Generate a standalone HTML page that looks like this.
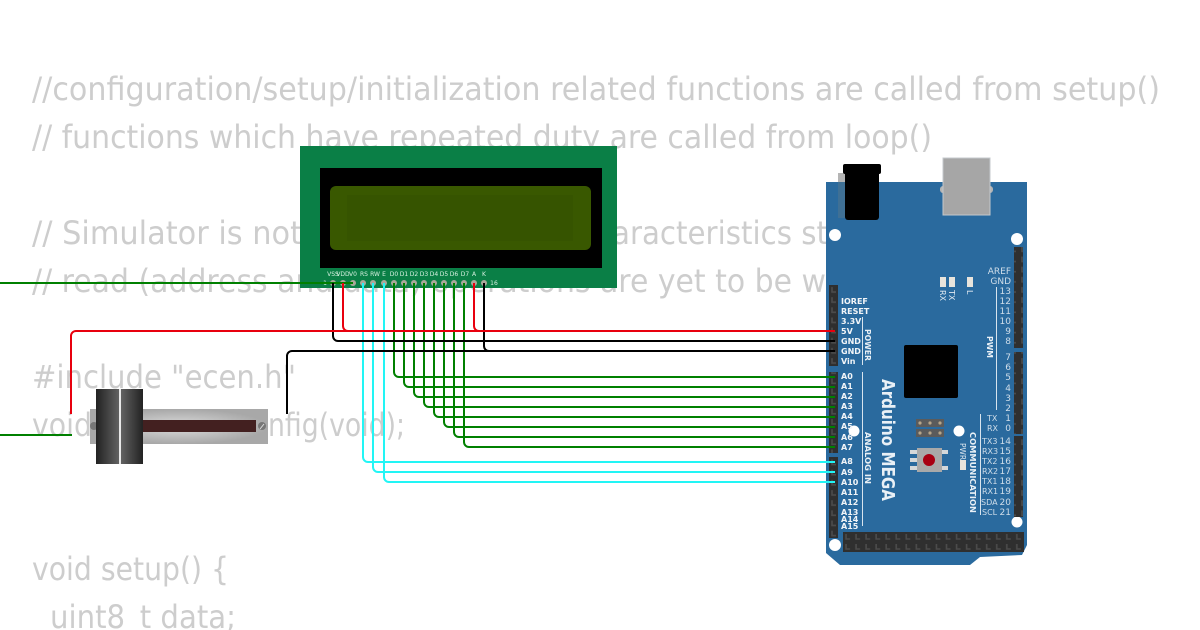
<!DOCTYPE html>
<html><head><meta charset="utf-8"><style>
html,body{margin:0;padding:0;background:#fff;width:1200px;height:630px;overflow:hidden}
svg{display:block}
.c{font:32px "DejaVu Sans",sans-serif;fill:#cdcdcd}
.l{font:bold 8px "DejaVu Sans",sans-serif;fill:#f2f5f8}
.r{font:9px "DejaVu Sans",sans-serif;fill:#cfdde9;text-anchor:end}
.t{font:8px "DejaVu Sans",sans-serif;fill:#cfdde9}
.p{font:6px "DejaVu Sans",sans-serif;fill:#d6f0e0;text-anchor:middle}
.w{fill:none;stroke-width:2}
</style></head><body>
<svg width="1200" height="630" viewBox="0 0 1200 630" xmlns="http://www.w3.org/2000/svg">
<defs>
<pattern id="h" width="10" height="10.15" patternUnits="userSpaceOnUse" x="829" y="285"><rect width="10" height="11" fill="#2f2f2f"/><path d="M3 2v5h4" fill="none" stroke="#4b4b4b" stroke-width="1.6"/></pattern>
<pattern id="b" width="10.05" height="10" patternUnits="userSpaceOnUse" x="843" y="532"><rect width="11" height="10" fill="#2f2f2f"/><path d="M3 2v5h4" fill="none" stroke="#4b4b4b" stroke-width="1.6"/></pattern>
<linearGradient id="k1" x1="0" x2="1" y1="0" y2="0"><stop offset="0" stop-color="#222"/><stop offset="1" stop-color="#626262"/></linearGradient>
<linearGradient id="k2" x1="0" x2="1" y1="0" y2="0"><stop offset="0" stop-color="#626262"/><stop offset="1" stop-color="#222"/></linearGradient>
<radialGradient id="s"><stop offset="0" stop-color="#dcdcdc"/><stop offset="1" stop-color="#a8a8a8"/></radialGradient>
</defs>
<g class="c">
<text x="32" y="100" textLength="1128" lengthAdjust="spacingAndGlyphs">//configuration/setup/initialization related functions are called from setup()</text>
<text x="32" y="148" textLength="900" lengthAdjust="spacingAndGlyphs">// functions which have repeated duty are called from loop()</text>
<text x="32" y="244" textLength="270" lengthAdjust="spacingAndGlyphs">// Simulator is not</text>
<text x="612" y="244" textLength="216" lengthAdjust="spacingAndGlyphs">aracteristics st</text>
<text x="32" y="292" textLength="794" lengthAdjust="spacingAndGlyphs">// read (address and data) operations are yet to be w</text>
<text x="32" y="388" textLength="264" lengthAdjust="spacingAndGlyphs">#include "ecen.h"</text>
<text x="32" y="436" textLength="60" lengthAdjust="spacingAndGlyphs">void</text>
<text x="268" y="436" textLength="137" lengthAdjust="spacingAndGlyphs">nfig(void);</text>
<text x="32" y="580" textLength="197" lengthAdjust="spacingAndGlyphs">void setup() {</text>
<text x="50" y="628" textLength="186" lengthAdjust="spacingAndGlyphs">uint8_t data;</text>
</g>

<!-- LCD -->
<rect x="300" y="146" width="317" height="142" fill="#0a7f46"/>
<rect x="320" y="168" width="282" height="100" fill="#000"/>
<rect x="330" y="186" width="261" height="64" rx="6" fill="#395800"/>
<rect x="347" y="195" width="226" height="46" fill="#365400"/>
<g class="p">
<text x="333" y="276">VSS</text><text x="343" y="276">VDD</text><text x="353" y="276">V0</text><text x="364" y="276">RS</text><text x="375" y="276">RW</text><text x="384" y="276">E</text><text x="394" y="276">D0</text><text x="404" y="276">D1</text><text x="414" y="276">D2</text><text x="424" y="276">D3</text><text x="434" y="276">D4</text><text x="444" y="276">D5</text><text x="454" y="276">D6</text><text x="465" y="276">D7</text><text x="474" y="276">A</text><text x="484" y="276">K</text><text x="325" y="285">1</text><text x="494" y="285">16</text>
</g>
<g fill="#a9a99a">
<circle cx="333" cy="283" r="3"/><circle cx="343" cy="283" r="3"/><circle cx="353" cy="283" r="3"/><circle cx="363" cy="283" r="3"/><circle cx="373" cy="283" r="3"/><circle cx="384" cy="283" r="3"/><circle cx="394" cy="283" r="3"/><circle cx="404" cy="283" r="3"/><circle cx="414" cy="283" r="3"/><circle cx="424" cy="283" r="3"/><circle cx="434" cy="283" r="3"/><circle cx="444" cy="283" r="3"/><circle cx="454" cy="283" r="3"/><circle cx="464" cy="283" r="3"/><circle cx="474" cy="283" r="3"/><circle cx="484" cy="283" r="3"/>
</g>

<!-- Slider -->
<rect x="90" y="409" width="178" height="35" fill="url(#s)"/>
<rect x="143" y="420" width="113" height="12" fill="#432020"/>
<circle cx="262" cy="426" r="4" fill="#777"/><path d="M260 429l4-5" stroke="#ddd"/>
<circle cx="94" cy="426" r="4" fill="#777"/>
<rect x="118" y="389" width="4" height="75" fill="#e8e8e8"/>
<rect x="96" y="389" width="23" height="75" fill="url(#k1)"/>
<rect x="121" y="389" width="22" height="75" fill="url(#k2)"/>

<!-- Arduino -->
<rect x="838" y="173" width="8" height="10" fill="#b5b5b5"/>
<path d="M826 182H1027V545L1022 555L980 557L970 565H840L826 553Z" fill="#2a6a9e"/>
<rect x="940" y="186" width="53" height="7" rx="3" fill="#b5b5b5"/>
<path d="M838 182h8v36h-8z" fill="#3f7095"/>
<rect x="845" y="168" width="34" height="52" rx="3" fill="#000"/>
<rect x="843" y="164" width="38" height="10" rx="2" fill="#000"/>
<rect x="943" y="158" width="47" height="57" fill="#a6a6a6" stroke="#c4c8cc"/>
<circle cx="835" cy="235" r="6" fill="#fff"/><circle cx="1017" cy="239" r="6" fill="#fff"/><circle cx="835" cy="545" r="6" fill="#fff"/><circle cx="1017" cy="522" r="5.5" fill="#fff"/><circle cx="854" cy="431" r="5.5" fill="#fff"/><circle cx="959" cy="431" r="5.5" fill="#fff"/>
<rect x="829" y="285" width="9" height="81" fill="url(#h)"/>
<rect x="829" y="372" width="9" height="81" fill="url(#h)"/>
<rect x="829" y="457" width="9" height="81" fill="url(#h)"/>
<rect x="1014" y="247" width="9" height="101" fill="url(#h)"/>
<rect x="1014" y="352" width="9" height="82" fill="url(#h)"/>
<rect x="1014" y="436" width="9" height="81" fill="url(#h)"/>
<rect x="843" y="532" width="181" height="20" fill="url(#b)"/>
<rect x="904" y="345" width="54" height="53" rx="2" fill="#000"/>
<rect x="916" y="419" width="28" height="8" fill="#5b5b5b"/><rect x="916" y="429" width="28" height="8" fill="#5b5b5b"/>
<g fill="#b5a58a"><circle cx="920" cy="423" r="1.6"/><circle cx="930" cy="423" r="1.6"/><circle cx="940" cy="423" r="1.6"/><circle cx="920" cy="433" r="1.6"/><circle cx="930" cy="433" r="1.6"/><circle cx="940" cy="433" r="1.6"/></g>
<g fill="#d5d8da"><rect x="910" y="450" width="8" height="4"/><rect x="910" y="458" width="8" height="4"/><rect x="910" y="466" width="8" height="4"/><rect x="941" y="450" width="7" height="4"/><rect x="941" y="466" width="7" height="4"/></g>
<rect x="917" y="448" width="25" height="24" fill="#a9a9a9"/><circle cx="929" cy="460" r="6" fill="#a80012"/>
<g fill="#e8e4dc"><rect x="960" y="460" width="6" height="10"/><rect x="940" y="277" width="6" height="10"/><rect x="949" y="277" width="6" height="10"/><rect x="967" y="277" width="6" height="10"/></g>
<g stroke="#d8e4ee" fill="none"><path d="M862.5 317V365M862.5 372V526M996.5 287V410M980.5 414V515"/></g>

<g class="l">
<text x="841" y="304">IOREF</text><text x="841" y="314">RESET</text><text x="841" y="324">3.3V</text><text x="841" y="334">5V</text><text x="841" y="344">GND</text><text x="841" y="354">GND</text><text x="841" y="364">Vin</text>
<text x="841" y="379">A0</text><text x="841" y="389">A1</text><text x="841" y="399">A2</text><text x="841" y="409">A3</text><text x="841" y="419">A4</text><text x="841" y="429">A5</text><text x="841" y="440">A6</text><text x="841" y="450">A7</text>
<text x="841" y="464">A8</text><text x="841" y="475">A9</text><text x="841" y="485">A10</text><text x="841" y="495">A11</text><text x="841" y="505">A12</text><text x="841" y="515">A13</text><text x="841" y="522">A14</text><text x="841" y="529">A15</text>
</g>
<g class="r">
<text x="1011" y="274">AREF</text><text x="1011" y="284">GND</text><text x="1011" y="294">13</text><text x="1011" y="304">12</text><text x="1011" y="314">11</text><text x="1011" y="324">10</text><text x="1011" y="334">9</text><text x="1011" y="344">8</text><text x="1011" y="360">7</text><text x="1011" y="370">6</text><text x="1011" y="380">5</text><text x="1011" y="391">4</text><text x="1011" y="401">3</text><text x="1011" y="411">2</text><text x="1011" y="421">1</text><text x="1011" y="431">0</text><text x="1011" y="444">14</text><text x="1011" y="454">15</text><text x="1011" y="464">16</text><text x="1011" y="474">17</text><text x="1011" y="484">18</text><text x="1011" y="494">19</text><text x="1011" y="505">20</text><text x="1011" y="515">21</text>
</g>
<g class="t">
<text x="987" y="421">TX</text><text x="987" y="431">RX</text><text x="982" y="444">TX3</text><text x="982" y="454">RX3</text><text x="982" y="464">TX2</text><text x="982" y="474">RX2</text><text x="982" y="484">TX1</text><text x="982" y="494">RX1</text><text x="981" y="505">SDA</text><text x="982" y="515">SCL</text>
</g>
<text transform="translate(882,379) rotate(90)" style="font:bold 18px 'DejaVu Sans',sans-serif;fill:#e9f0f6" textLength="122" lengthAdjust="spacingAndGlyphs">Arduino MEGA</text>
<g style="font:bold 8px 'DejaVu Sans',sans-serif;fill:#e9f0f6">
<text transform="translate(865,329) rotate(90)" textLength="32" lengthAdjust="spacingAndGlyphs">POWER</text>
<text transform="translate(865,432) rotate(90)" textLength="52" lengthAdjust="spacingAndGlyphs">ANALOG IN</text>
<text transform="translate(987,336) rotate(90)" textLength="22" lengthAdjust="spacingAndGlyphs">PWM</text>
<text transform="translate(970,432) rotate(90)" textLength="81" lengthAdjust="spacingAndGlyphs">COMMUNICATION</text>
</g>
<g style="font:8px 'DejaVu Sans',sans-serif;fill:#dfe8f0">
<text transform="translate(940,290) rotate(90)">RX</text>
<text transform="translate(949,290) rotate(90)">TX</text>
<text transform="translate(967,290) rotate(90)">L</text>
<text transform="translate(960,443) rotate(90)" textLength="17" lengthAdjust="spacingAndGlyphs">PWR</text>
</g>

<!-- Wires -->
<g class="w" stroke="#008000">
<path d="M0 283H353"/>
<path d="M0 435H72"/>
<path d="M394 283V372a5 5 0 0 0 5 5H835"/>
<path d="M404 283V382a5 5 0 0 0 5 5H835"/>
<path d="M414 283V392a5 5 0 0 0 5 5H835"/>
<path d="M424 283V402a5 5 0 0 0 5 5H835"/>
<path d="M434 283V412a5 5 0 0 0 5 5H835"/>
<path d="M444 283V422a5 5 0 0 0 5 5H835"/>
<path d="M454 283V432a5 5 0 0 0 5 5H835"/>
<path d="M464 283V442a5 5 0 0 0 5 5H835"/>
</g>
<g class="w" stroke="#22f5f5">
<path d="M363 283V457a5 5 0 0 0 5 5H835"/>
<path d="M373 283V467a5 5 0 0 0 5 5H835"/>
<path d="M384 283V477a5 5 0 0 0 5 5H835"/>
</g>
<g class="w" stroke="#000">
<path d="M333 283V336a5 5 0 0 0 5 5H835"/>
<path d="M484 283V346a5 5 0 0 0 5 5H835"/>
<path d="M287 414V356a5 5 0 0 1 5-5H835"/>
</g>
<g class="w" stroke="#e8000e">
<path d="M343 283V326a5 5 0 0 0 5 5"/>
<path d="M474 283V326a5 5 0 0 0 5 5"/>
<path d="M71 414V336a5 5 0 0 1 5-5H835"/>
</g>
</svg>
</body></html>
